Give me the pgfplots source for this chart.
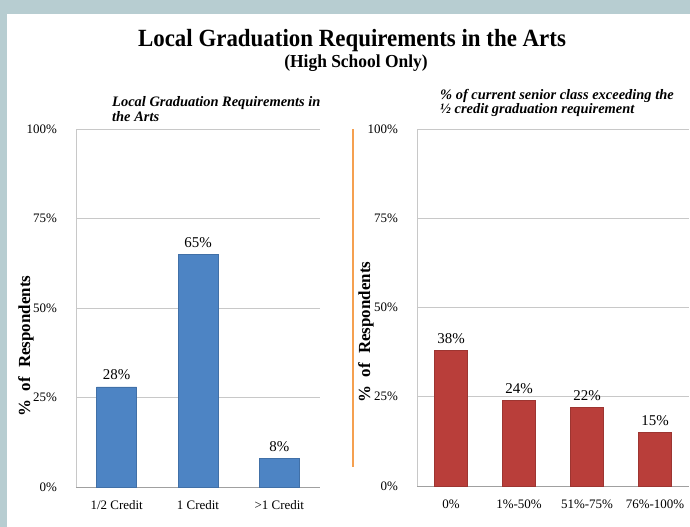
\documentclass[border=0pt]{standalone}
\usepackage{pgfplots}
\pgfplotsset{compat=1.18}
\usepackage{graphicx}
\usepackage{fontspec}
\setmainfont{Liberation Serif}
\definecolor{framec}{RGB}{183,205,209}
\definecolor{barblue}{RGB}{77,132,196}
\definecolor{barred}{RGB}{185,62,58}
\definecolor{orangeline}{RGB}{245,160,80}
\definecolor{gridc}{RGB}{200,200,200}
\definecolor{axc}{RGB}{160,160,160}
\pgfplotsset{
  panel/.style={
    scale only axis,
    ybar,
    ymin=0, ymax=100,
    ytick={0,25,50,75,100},
    yticklabel={\pgfmathprintnumber{\tick}\%},
    /pgf/number format/assume math mode=true,
    ymajorgrids,
    grid style={gridc, line width=0.8pt},
    axis x line*=bottom,
    axis y line*=left,
    axis line style={-},
    x axis line style={axc, line width=0.8pt},
    y axis line style={gridc, line width=0.8pt},
    major tick length=0pt,
    xtick=data,
    yticklabel style={anchor=east, inner sep=0pt, xshift=-19bp, font=\fontsize{13}{13}\selectfont},
    xticklabel style={anchor=base, inner sep=0pt, yshift=-23bp, font=\fontsize{13}{13}\selectfont},
    nodes near coords={\pgfmathprintnumber{\pgfplotspointmeta}\%},
    every node near coord/.append style={anchor=base, inner sep=0pt, yshift=7bp, font=\fontsize{15}{15}\selectfont},
    clip=false,
  }
}
\begin{document}
\begin{tikzpicture}[x=1bp,y=1bp]
\fill[white] (0,0) rectangle (690,527);
\fill[framec] (0,0) rectangle (7,527);
\fill[framec] (0,513) rectangle (690,527);
\node[anchor=base, inner sep=0pt, font=\bfseries\fontsize{23}{23}\selectfont] at (352,480) {\scalebox{1}[1.08]{Local Graduation Requirements in the Arts}};
\node[anchor=base, inner sep=0pt, font=\bfseries\fontsize{17.5}{17.5}\selectfont] at (356,459) {\scalebox{1}[1.05]{(High School Only)}};
\node[anchor=base west, align=left, inner sep=0pt, font=\bfseries\itshape\fontsize{14.5}{16}\selectfont] at (112,405) {Local Graduation Requirements in\\the Arts};
\node[anchor=base west, align=left, inner sep=0pt, font=\bfseries\itshape\fontsize{14.5}{15}\selectfont] at (440,413) {\% of current senior class exceeding the\\½ credit graduation requirement};
\node[rotate=90, font=\bfseries\fontsize{17}{17}\selectfont] at (26,181) {\%\hspace{4bp} of\hspace{5bp} Respondents};
\node[rotate=90, font=\bfseries\fontsize{17}{17}\selectfont] at (366,195) {\%\hspace{4bp} of\hspace{5bp} Respondents};
\draw[orangeline, line width=2bp] (353,60) -- (353,398);
\begin{axis}[panel,
  at={(76bp,40bp)}, anchor=south west,
  width=244bp, height=358bp,
  xmin=-0.5, xmax=2.5,
  bar width=40bp,
  xticklabels={1/2 Credit, 1 Credit, >1 Credit}]
\addplot[fill=barblue, draw=barblue!85!black] coordinates {(0,28) (1,65) (2,8)};
\end{axis}
\begin{axis}[panel,
  at={(417bp,41bp)}, anchor=south west,
  width=272bp, height=357bp,
  xmin=-0.5, xmax=3.5,
  bar width=33bp,
  xticklabels={0\%, 1\%-50\%, 51\%-75\%, 76\%-100\%}]
\addplot[fill=barred, draw=barred!85!black] coordinates {(0,38) (1,24) (2,22) (3,15)};
\end{axis}
\end{tikzpicture}
\end{document}
